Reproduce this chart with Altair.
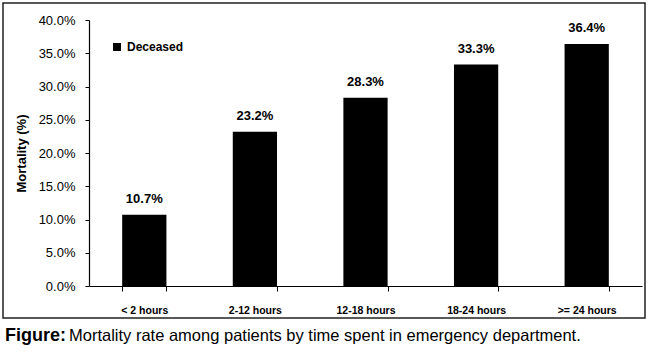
import altair as alt
import pandas as pd

categories = ["< 2 hours", "2-12 hours", "12-18 hours", "18-24 hours", ">= 24 hours"]
mortality = [10.7, 23.2, 28.3, 33.3, 36.4]
series = ["Deceased"] * 5
y_ticks = [0, 5, 10, 15, 20, 25, 30, 35, 40]

df = pd.DataFrame({"cat": categories, "val": mortality, "series": series})

W, H = 553, 266
LEFT, TOP = 89, 20

x = alt.X("cat:N", sort=categories, title=None,
          scale=alt.Scale(paddingInner=0.6, paddingOuter=0.3),
          axis=alt.Axis(labelAngle=0, labelFont="Liberation Sans", labelFontWeight="bold",
                        labelFontSize=10.5, labelColor="black", labelPadding=14,
                        tickBand="extent", tickSize=5, tickColor="black",
                        domainColor="black", domainWidth=1.2))
y = alt.Y("val:Q", title="Mortality (%)",
          scale=alt.Scale(domain=[0, 40], nice=False),
          axis=alt.Axis(values=y_ticks, labelExpr="format(datum.value, '.1f') + '%'",
                        labelOverlap=False, labelFont="Liberation Sans",
                        labelFontSize=13, labelColor="black", labelPadding=10,
                        tickSize=4, tickColor="black", domainColor="black",
                        domainWidth=1.2, grid=False, titleFont="Liberation Sans",
                        titleFontWeight="bold", titleFontSize=13, titleColor="black",
                        titlePadding=10))

bars = alt.Chart(df).mark_bar(color="black").encode(
    x=x, y=y,
    color=alt.Color("series:N", scale=alt.Scale(range=["black"]),
                    legend=alt.Legend(orient="none", legendX=22, legendY=21, title=None,
                                      symbolType="square", symbolSize=64,
                                      labelFont="Liberation Sans", labelFontWeight="bold",
                                      labelFontSize=12, labelColor="black"))
)

labels = alt.Chart(df).transform_calculate(
    lbl="format(datum.val, '.1f') + '%'"
).mark_text(dy=-9, font="Liberation Sans", fontWeight="bold",
            fontSize=13, color="black", baseline="bottom").encode(
    x=x, y=y, text="lbl:N"
)

one = alt.Data(values=[{"a": 1}])
border = alt.Chart(one).mark_rect(fill=None, stroke="#222", strokeWidth=1.5).encode(
    x=alt.value(3 - LEFT), x2=alt.value(645 - LEFT),
    y=alt.value(3 - TOP), y2=alt.value(318 - TOP)
)
cap1 = alt.Chart(one).mark_text(text="Figure:", align="left", baseline="alphabetic",
                                font="Liberation Sans", fontWeight="bold",
                                fontSize=18, color="black").encode(
    x=alt.value(5 - LEFT), y=alt.value(341 - TOP))
cap2 = alt.Chart(one).mark_text(
    text="Mortality rate among patients by time spent in emergency department.",
    align="left", baseline="alphabetic", font="Liberation Sans",
    fontSize=16.5, color="black").encode(
    x=alt.value(69 - LEFT), y=alt.value(341 - TOP))

chart = alt.layer(bars, labels, border, cap1, cap2).properties(
    width=W, height=H,
    autosize=alt.AutoSizeParams(type="none"),
    padding={"left": LEFT, "top": TOP, "right": 650 - LEFT - W, "bottom": 354 - TOP - H},
    background="white"
).configure_view(stroke=None)

chart.save("out.html", embed_options={"renderer": "svg", "actions": False})
